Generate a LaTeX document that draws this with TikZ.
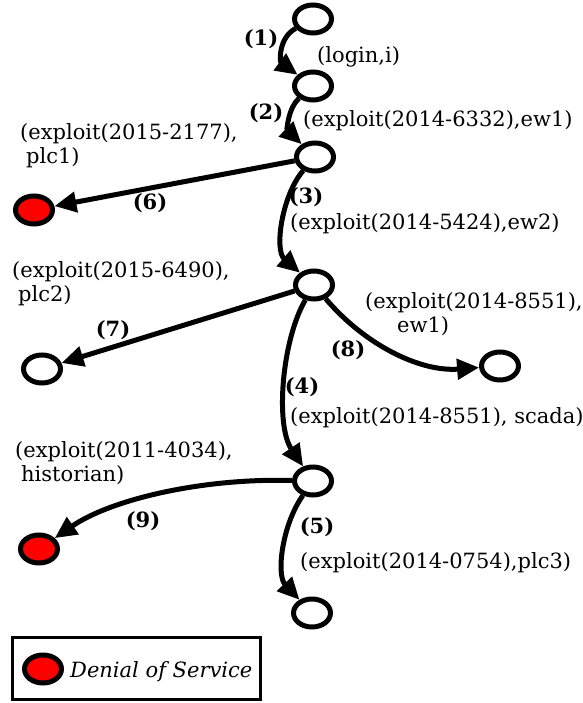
\documentclass[tikz,border=0pt]{standalone}
\usepackage{fontspec}
\setmainfont{DejaVu Serif}
\usetikzlibrary{shapes.geometric,arrows.meta}
\begin{document}
\begin{tikzpicture}[x=1pt,y=-1pt,
  state/.style={ellipse,draw,line width=5pt,minimum width=37pt,minimum height=28pt,inner sep=0pt,fill=white},
  dos/.style={state,fill=red},
  conn/.style={line width=5pt,-{Triangle[length=22pt,width=20pt]}},
  elab/.style={font=\bfseries\fontsize{21}{24}\selectfont,inner sep=0pt},
  txt/.style={font=\fontsize{21}{24}\selectfont,inner sep=0pt,anchor=west,align=left}]
\useasboundingbox (0,0) rectangle (582,703);
% states
\node[state] (n0) at (313,19) {};
\node[state] (n1) at (313,86) {};
\node[state] (n2) at (315,157) {};
\node[dos]   (n6) at (34,210) {};
\node[state] (n3) at (314,285) {};
\node[state] (n7) at (42,369) {};
\node[state] (n8) at (500,366) {};
\node[state] (n4) at (313,481) {};
\node[dos]   (n9) at (39,549) {};
\node[state] (n5) at (312,613) {};
% connectors
\draw[conn] (n0) .. controls (278,38) and (280,62) .. (n1);
\draw[conn] (n1) .. controls (288,108) and (287,130) .. (n2);
\draw[conn] (n2) .. controls (282,195) and (274,250) .. (n3);
\draw[conn] (n2) -- (n6);
\draw[conn] (n3) -- (n7);
\draw[conn] (n3) .. controls (365,345) and (420,372) .. (n8);
\draw[conn] (n3) .. controls (282,340) and (275,425) .. (n4);
\draw[conn] (n4) .. controls (200,478) and (110,500) .. (n9);
\draw[conn] (n4) .. controls (282,525) and (276,575) .. (n5);
% edge labels
\node[elab] (l1) at (261,39) {(1)};
\node[elab] (l2) at (266,113) {(2)};
\node[elab] (l3) at (306,197) {(3)};
\node[elab] (l4) at (302,387) {(4)};
\node[elab] (l5) at (317,527) {(5)};
\node[elab] (l6) at (150,203) {(6)};
\node[elab] (l7) at (113,330) {(7)};
\node[elab] (l8) at (348,350) {(8)};
\node[elab] (l9) at (143,521) {(9)};
% texts
\node[txt] (t1) at (317,57) {(login,i)};
\node[txt] (t2) at (303,121) {(exploit(2014-6332),ew1)};
\node[txt] (t6) at (20,146) {(exploit(2015-2177),\\\hspace{6pt}plc1)};
\node[txt] (t3) at (290,224) {(exploit(2014-5424),ew2)};
\node[txt] (t7) at (12,284) {(exploit(2015-6490),\\\hspace{6pt}plc2)};
\node[txt] (t8) at (365,314) {(exploit(2014-8551),\\\hspace{32pt}ew1)};
\node[txt] (t4) at (290,418) {(exploit(2014-8551), scada)};
\node[txt] (t9) at (15,463) {(exploit(2011-4034),\\\hspace{6pt}historian)};
\node[txt] (t5) at (300,563) {(exploit(2014-0754),plc3)};
% legend
\node[draw,line width=2.5pt,minimum width=248pt,minimum height=62pt,inner sep=0pt] (legend) at (136.5,668.5) {};
\node[dos] (legdos) at (43,669) {};
\node[txt,font=\itshape\fontsize{21}{24}\selectfont] (legtxt) at (70,672) {Denial of Service};
\end{tikzpicture}
\end{document}
